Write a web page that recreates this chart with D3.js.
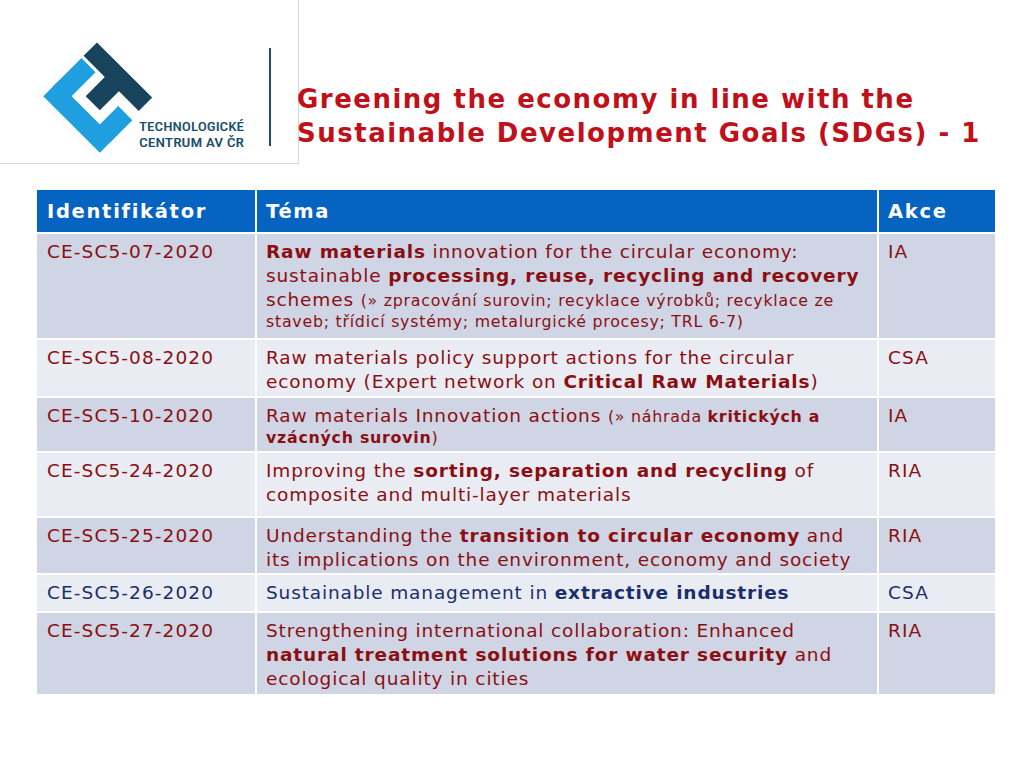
<!DOCTYPE html>
<html><head><meta charset="utf-8">
<script src="https://cdn.jsdelivr.net/npm/d3@7"></script>
<style>body{margin:0;background:#fff}svg{display:block}</style>
</head><body><div id="slide"></div>
<script>
var titleLines = ["Greening the economy in line with the", "Sustainable Development Goals (SDGs) - 1"];
var headers = ["Identifikátor", "Téma", "Akce"];
var ids = ["CE-SC5-07-2020","CE-SC5-08-2020","CE-SC5-10-2020","CE-SC5-24-2020","CE-SC5-25-2020","CE-SC5-26-2020","CE-SC5-27-2020"];
var actions = ["IA","CSA","IA","RIA","RIA","CSA","RIA"];
// topic lines: each line is a list of [text, style]  n=normal b=bold s=small sb=small bold
var topics = [
  [[["Raw materials","b"],[" innovation for the circular economy:","n"]],
   [["sustainable ","n"],["processing, reuse, recycling and recovery","b"]],
   [["schemes ","n"],["(» zpracování surovin; recyklace výrobků; recyklace ze","s"]],
   [["staveb; třídicí systémy; metalurgické procesy; TRL 6-7)","s"]]],
  [[["Raw materials policy support actions for the circular","n"]],
   [["economy (Expert network on ","n"],["Critical Raw Materials","b"],[")","n"]]],
  [[["Raw materials Innovation actions ","n"],["(» náhrada ","s"],["kritických a","sb"]],
   [["vzácných surovin","sb"],[")","s"]]],
  [[["Improving the ","n"],["sorting, separation and recycling","b"],[" of","n"]],
   [["composite and multi-layer materials","n"]]],
  [[["Understanding the ","n"],["transition to circular economy","b"],[" and","n"]],
   [["its implications on the environment, economy and society","n"]]],
  [[["Sustainable management in ","n"],["extractive industries","b"]]],
  [[["Strengthening international collaboration: Enhanced","n"]],
   [["natural treatment solutions for water security","b"],[" and","n"]],
   [["ecological quality in cities","n"]]]
];
var rowPad = [11, 8, 8, 15, 7, 12, 9];
var rowColors = ["#8B0F12","#8B0F12","#8B0F12","#8B0F12","#8B0F12","#1B2F6B","#8B0F12"];

var W = 1024, H = 768;
var svg = d3.select("#slide").append("svg").attr("width", W).attr("height", H);
var font = "'DejaVu Sans', Verdana, sans-serif";

// logo box
svg.append("path").attr("d", "M0,163.5H298.5V0").attr("fill", "none").attr("stroke", "#d6d6d6");
var logo = svg.append("g").attr("transform", "translate(97,99) rotate(45)");
var blue = [[-40,16,80,20],[-40,-18,20,40],[20,-10,20,30]];
logo.selectAll(".lb").data(blue).enter().append("rect")
  .attr("x", d => d[0]).attr("y", d => d[1]).attr("width", d => d[2]).attr("height", d => d[3])
  .attr("fill", "#1f9ee0");
var dark = [[-40,-40,78,19],[-10,-22,20,28]];
logo.selectAll(".ld").data(dark).enter().append("rect")
  .attr("x", d => d[0]).attr("y", d => d[1]).attr("width", d => d[2]).attr("height", d => d[3])
  .attr("fill", "#17435c");
svg.selectAll(".lt").data(["TECHNOLOGICKÉ","CENTRUM AV ČR"]).enter().append("text")
  .attr("x", 139).attr("y", (d, i) => 131 + i * 16).text(d => d)
  .attr("font-family", "'Roboto Condensed','Liberation Sans Narrow',Roboto,sans-serif")
  .attr("font-size", 13.5).attr("font-weight", 500).attr("fill", "#1d4f6b")
  .attr("textLength", 105).attr("lengthAdjust", "spacingAndGlyphs");
svg.append("line").attr("x1", 270).attr("x2", 270).attr("y1", 48).attr("y2", 146)
  .attr("stroke", "#1d4f6b").attr("stroke-width", 2);

svg.selectAll(".title").data(titleLines).enter().append("text")
  .attr("x", 297).attr("y", (d, i) => 108 + i * 34).text(d => d)
  .attr("font-family", font).attr("font-size", 26).attr("letter-spacing", 1.5)
  .attr("font-weight", "bold").attr("fill", "#C0111A");

// table
var colX = [37, 256, 878, 996];
var lineH = {n: 24, b: 24, s: 21, sb: 21};
function lineHeight(line) { return d3.max(line, s => lineH[s[1]]); }
var rows = topics.map(function(t, i) {
  return {id: ids[i], act: actions[i], lines: t, color: rowColors[i],
          h: d3.sum(t, lineHeight) + rowPad[i]};
});
var y0 = 190, headH = 42, gap = 2;
var y = y0 + headH + gap;
rows.forEach(function(r) { r.y = y; y += r.h + gap; });

var g = svg.append("g");
headers.forEach(function(h, i) {
  g.append("rect").attr("x", colX[i] + (i ? 1 : 0)).attr("y", y0)
    .attr("width", colX[i + 1] - colX[i] - (i ? 1 : 0) - 1).attr("height", headH).attr("fill", "#0563C1");
  g.append("text").attr("x", colX[i] + 10).attr("y", y0 + 28).text(h)
    .attr("font-family", font).attr("font-size", 19.5).attr("letter-spacing", 1.7)
    .attr("font-weight", "bold").attr("fill", "#fff");
});

var rg = g.selectAll(".row").data(rows).enter().append("g").attr("transform", d => "translate(0," + d.y + ")");
[0, 1, 2].forEach(function(c) {
  rg.append("rect").attr("x", colX[c] + (c ? 1 : 0)).attr("width", colX[c + 1] - colX[c] - (c ? 1 : 0) - 1)
    .attr("height", d => d.h).attr("fill", (d, i) => i % 2 ? "#E9ECF3" : "#CFD5E4");
});
function cell(sel, x, f) {
  sel.append("text").attr("x", x).attr("y", 24).text(f)
    .attr("font-family", font).attr("font-size", 18.5).attr("letter-spacing", 1.1).attr("fill", d => d.color);
}
cell(rg, colX[0] + 10, d => d.id);
cell(rg, colX[2] + 10, d => d.act);
rg.each(function(d) {
  var t = d3.select(this).append("text").attr("font-family", font).attr("fill", d.color);
  var ly = 24;
  d.lines.forEach(function(line, li) {
    if (li) ly += lineHeight(line);
    line.forEach(function(s, si) {
      var small = s[1][0] === "s";
      var sp = t.append("tspan").text(s[0])
        .attr("font-size", small ? 15.8 : 18.5)
        .attr("letter-spacing", small ? 0.75 : 0.85)
        .attr("font-weight", s[1] === "b" || s[1] === "sb" ? "bold" : "normal")
        .attr("xml:space", "preserve");
      if (si === 0) sp.attr("x", colX[1] + 10).attr("y", ly);
    });
  });
});
</script></body></html>
